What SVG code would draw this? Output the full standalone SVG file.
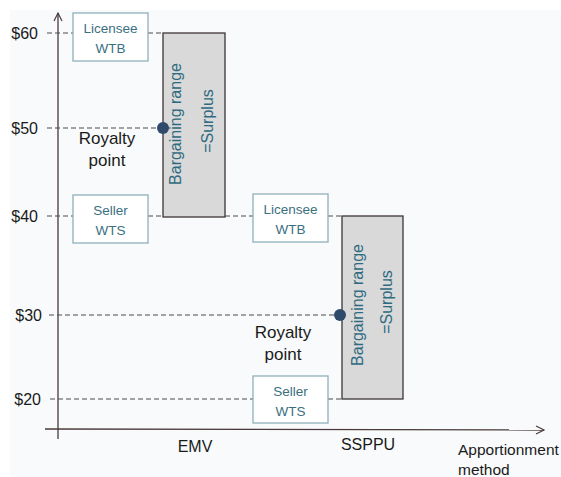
<svg xmlns="http://www.w3.org/2000/svg" width="561" height="477" viewBox="0 0 561 477">
<defs>
<style>
text{font-family:"Liberation Sans",Arial,sans-serif;}
.lbl{font-size:16px;fill:#1a1a1a;}
.box{fill:#ffffff;stroke:#8fb0ba;stroke-width:1.3;}
.btxt{font-size:13.5px;fill:#3b6f80;text-anchor:middle;}
.range{fill:#d9d9d9;stroke:#3d3535;stroke-width:1.3;}
.rtxt{font-size:16px;fill:#2e6b80;text-anchor:middle;dominant-baseline:central;}
.dash{stroke:#4a4a4a;stroke-width:1.2;stroke-dasharray:5 3;fill:none;}
.axis{stroke:#4a3a3a;stroke-width:1.3;fill:none;}
.dot{fill:#2f4a6a;}
.rp{font-size:17px;fill:#1a1a1a;text-anchor:middle;}
</style>
<marker id="arr" markerWidth="12" markerHeight="12" refX="10" refY="6" orient="auto" markerUnits="userSpaceOnUse">
<path d="M2,2 L10,6 L2,10" fill="none" stroke="#4a3a3a" stroke-width="1.2"/>
</marker>
</defs>
<rect x="0" y="0" width="561" height="477" fill="#ffffff"/>
<rect x="10" y="10" width="551" height="467" fill="#f9fafc"/>

<g id="connectors">
<line class="axis" x1="58" y1="439" x2="58" y2="13" marker-end="url(#arr)"/>
<line class="axis" x1="45" y1="429" x2="544" y2="430" marker-end="url(#arr)"/>
<line class="dash" x1="47" y1="33" x2="73" y2="33"/>
<line class="dash" x1="148" y1="33" x2="163" y2="33"/>
<line class="dash" x1="47" y1="128" x2="163" y2="128"/>
<line class="dash" x1="47" y1="216" x2="73" y2="216"/>
<line class="dash" x1="148" y1="216" x2="163" y2="216"/>
<line class="dash" x1="225" y1="216" x2="253" y2="216"/>
<line class="dash" x1="328" y1="216" x2="342" y2="216"/>
<line class="dash" x1="49" y1="315" x2="340" y2="315"/>
<line class="dash" x1="50" y1="399" x2="253" y2="399"/>
<line class="dash" x1="328" y1="399" x2="342" y2="399"/>
</g>

<g id="y-labels">
<text class="lbl" x="38" y="39" text-anchor="end">$60</text>
<text class="lbl" x="38" y="134" text-anchor="end">$50</text>
<text class="lbl" x="38" y="222" text-anchor="end">$40</text>
<text class="lbl" x="42" y="321" text-anchor="end">$30</text>
<text class="lbl" x="41" y="405" text-anchor="end">$20</text>
</g>

<g id="x-labels">
<text class="lbl" x="195" y="452" text-anchor="middle">EMV</text>
<text class="lbl" x="368" y="450" text-anchor="middle">SSPPU</text>
<text class="lbl" x="458" y="455" style="font-size:15.5px">Apportionment</text>
<text class="lbl" x="458" y="475" style="font-size:15.5px">method</text>
</g>

<g id="licensee-wtb-emv">
<rect class="box" x="73" y="13" width="75" height="48"/>
<text class="btxt" x="110.5" y="33">Licensee</text>
<text class="btxt" x="110.5" y="53">WTB</text>
</g>

<g id="seller-wts-emv">
<rect class="box" x="73" y="195" width="75" height="48"/>
<text class="btxt" x="110.5" y="215">Seller</text>
<text class="btxt" x="110.5" y="235">WTS</text>
</g>

<g id="range-emv">
<rect class="range" x="163" y="33" width="62" height="184"/>
<text class="rtxt" x="175" y="124" transform="rotate(-90 175 124)">Bargaining range</text>
<text class="rtxt" x="207" y="121" transform="rotate(-90 207 121)">=Surplus</text>
</g>

<g id="royalty-emv">
<circle class="dot" cx="163" cy="128" r="6"/>
<text class="rp" x="107" y="144">Royalty</text>
<text class="rp" x="107" y="166">point</text>
</g>

<g id="licensee-wtb-ssppu">
<rect class="box" x="253" y="194" width="75" height="48"/>
<text class="btxt" x="290.5" y="214">Licensee</text>
<text class="btxt" x="290.5" y="234">WTB</text>
</g>

<g id="seller-wts-ssppu">
<rect class="box" x="253" y="376" width="75" height="47"/>
<text class="btxt" x="290.5" y="396">Seller</text>
<text class="btxt" x="290.5" y="416">WTS</text>
</g>

<g id="range-ssppu">
<rect class="range" x="342" y="216" width="61" height="183"/>
<text class="rtxt" x="357" y="305" transform="rotate(-90 357 305)">Bargaining range</text>
<text class="rtxt" x="386" y="302" transform="rotate(-90 386 302)">=Surplus</text>
</g>

<g id="royalty-ssppu">
<circle class="dot" cx="340" cy="315" r="6"/>
<text class="rp" x="283" y="338">Royalty</text>
<text class="rp" x="283" y="360">point</text>
</g>
</svg>
